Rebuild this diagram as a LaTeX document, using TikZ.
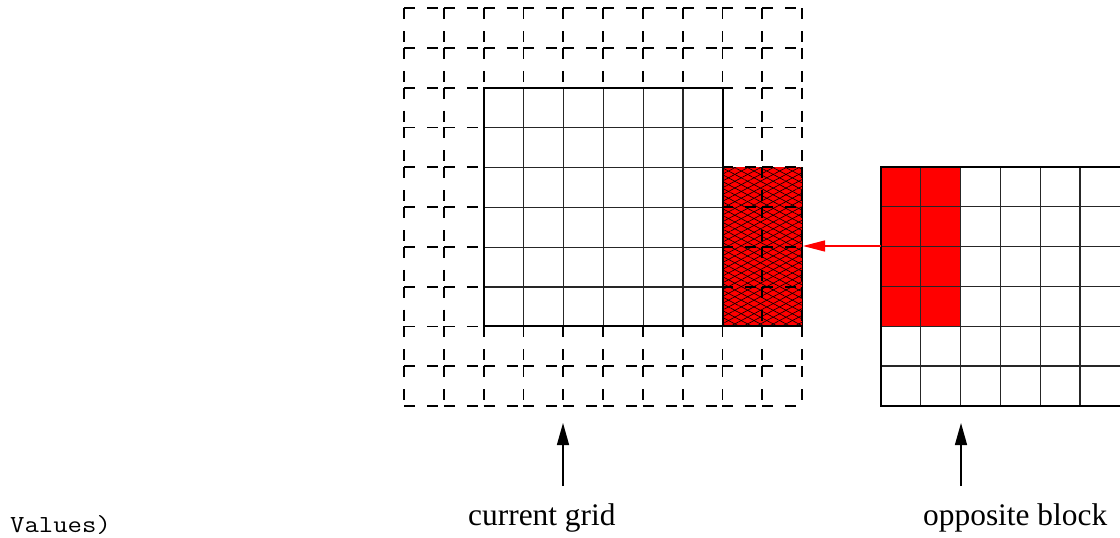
\documentclass[tikz,border=0pt]{standalone}
\usepackage{fontspec}
\setmainfont{Liberation Serif}
\newfontfamily\valfont[FakeStretch=1.14]{Latin Modern Mono}
\usetikzlibrary{arrows.meta,patterns.meta}
\tikzset{
  dgrid/.style={line width=1.8pt, dash pattern=on 11pt off 12pt},
  cellline/.style={line width=1.2pt, black!85},
  thickborder/.style={line width=2.6pt},
  blackarrow/.style={line width=1.4pt, -{Triangle[length=22pt,width=12pt]}},
  redarrow/.style={line width=1.3pt, red, -{Triangle[length=22pt,width=11pt]}},
  lbl/.style={anchor=base west, inner sep=0pt, font=\fontsize{31.4}{36}\selectfont},
  monolbl/.style={anchor=base west, inner sep=0pt, font=\fontsize{24.5}{28}\valfont},
}
\begin{document}
\begin{tikzpicture}[x=1pt,y=-1pt]
\useasboundingbox (0,0) rectangle (1120,538);
\def\cs{39.8}
% dashed outer grid, drawn cell edge by cell edge
\foreach \i in {0,...,10} {
  \foreach \j in {0,...,9} {
    \draw[dgrid] ({404+\cs*\i},{8+\cs*\j}) -- ({404+\cs*\i},{8+\cs*(\j+1)});
    \draw[dgrid] ({404+\cs*\j},{8+\cs*\i}) -- ({404+\cs*(\j+1)},{8+\cs*\i});
  }
}
% current grid (solid 6x6)
\fill[white] (484,88) rectangle (723,326);
\foreach \i in {1,...,5} {
  \draw[cellline] ({484+\cs*\i},88) -- ({484+\cs*\i},326);
  \draw[cellline] (484,{88+\cs*\i}) -- (723,{88+\cs*\i});
}
% hatched halo region
\fill[red] (723,167) rectangle (802,326);
\fill[pattern={Lines[angle=28,distance=6pt,line width=0.6pt]}, pattern color=black] (723,167) rectangle (802,326);
\fill[pattern={Lines[angle=-28,distance=6pt,line width=0.6pt]}, pattern color=black] (723,167) rectangle (802,326);
\begin{scope}
  \clip (723,167) rectangle (802,326);
  \foreach \i in {8,9,10} {
    \foreach \j in {4,...,7} {
      \draw[dgrid] ({404+\cs*\i},{8+\cs*\j}) -- ({404+\cs*\i},{8+\cs*(\j+1)});
    }
  }
  \foreach \j in {4,...,8} {
    \foreach \i in {8,9} {
      \draw[dgrid] ({404+\cs*\i},{8+\cs*\j}) -- ({404+\cs*(\i+1)},{8+\cs*\j});
    }
  }
\end{scope}
\draw[line width=0.8pt] (802,167) -- (802,326);
\draw[thickborder] (484,88) rectangle (723,326);
\draw[thickborder] (723,326) -- (802,326);
% opposite block
\fill[red] (881,167) rectangle ({881+2*\cs},{167+4*\cs});
\foreach \i in {1,...,5} {
  \draw[cellline] ({881+\cs*\i},167) -- ({881+\cs*\i},406);
  \draw[cellline] (881,{167+\cs*\i}) -- (1121,{167+\cs*\i});
}
\draw[thickborder] (1122,167) -- (881,167) -- (881,406) -- (1122,406);
% connectors
\coordinate (oppW) at (881,246);
\coordinate (hatchE) at (803,246);
\draw[redarrow] (oppW) -- (hatchE);
\coordinate (curbot) at (563,486);
\coordinate (curtop) at (563,423);
\coordinate (oppbot) at (961,486);
\coordinate (opptop) at (961,423);
\draw[blackarrow] (curbot) -- (curtop);
\draw[blackarrow] (oppbot) -- (opptop);
% labels
\node[lbl] (lblcur) at (468,525) {current grid};
\node[lbl] (lblopp) at (923,525) {opposite block};
\node[monolbl] (vals) at (10,532) {Values)};
\end{tikzpicture}
\end{document}
